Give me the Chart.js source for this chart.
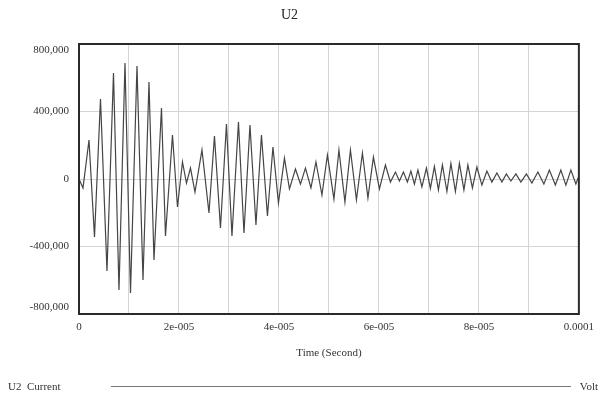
<!DOCTYPE html>
<html>
<head>
<meta charset="utf-8">
<script src="https://cdn.jsdelivr.net/npm/chart.js@4"></script>
<style>
  html, body { margin: 0; padding: 0; background: #fff; }
  #wrap { position: relative; width: 601px; height: 399px; }
  #legend {
    position: absolute; left: 8px; right: 3px; top: 377px; height: 18px;
    display: flex; align-items: center;
    font: 11px "Liberation Serif", serif; color: #333;
  }
  #legend .rule { flex: 1; height: 0; border-top: 1px solid #777; margin: 0 9px 0 50px; }
</style>
</head>
<body>
<div id="wrap">
  <canvas id="chart"></canvas>
  <div id="legend"><span>U2&nbsp; Current</span><span class="rule"></span><span>Volt</span></div>
</div>
<script>
// time in microseconds (peaks and troughs)
const timeUs = [
  0, 0.8, 2.0, 3.1, 4.3, 5.6, 6.9, 8.0, 9.2, 10.3,
  11.6, 12.8, 14.0, 15.0, 16.5, 17.3, 18.7, 19.7, 20.7, 21.5,
  22.3, 23.2, 24.6, 26.0, 27.1, 28.3, 29.5, 30.6, 31.9, 33.0,
  34.2, 35.4, 36.5, 37.7, 38.8, 39.9, 41.1, 42.1, 43.3, 44.3,
  45.3, 46.4, 47.4, 48.6, 49.7, 51.0, 52.0, 53.2, 54.3, 55.5,
  56.7, 57.8, 58.9, 60.1, 61.3, 62.3, 63.3, 64.1, 64.9, 65.7,
  66.4, 67.1, 67.8, 68.6, 69.5, 70.3, 71.1, 71.9, 72.7, 73.6,
  74.4, 75.3, 76.1, 77.0, 77.8, 78.7, 79.6, 80.6, 81.6, 82.6,
  83.6, 84.6, 85.5, 86.4, 87.4, 88.4, 89.5, 90.6, 91.8, 93.0,
  94.1, 95.3, 96.4, 97.4, 98.4, 99.4, 100
];
const current = [
  0, -53000, 231000, -344000, 474000, -545000, 628000, -658000, 687000, -676000,
  670000, -599000, 575000, -480000, 421000, -338000, 261000, -166000, 101000, -24000,
  65000, -77000, 172000, -201000, 255000, -290000, 326000, -338000, 338000, -320000,
  320000, -273000, 261000, -219000, 190000, -142000, 124000, -59000, 59000, -30000,
  65000, -53000, 101000, -95000, 142000, -119000, 172000, -136000, 172000, -124000,
  154000, -113000, 130000, -59000, 83000, -18000, 41000, -12000, 41000, -18000,
  47000, -30000, 53000, -47000, 65000, -56000, 74000, -65000, 83000, -74000,
  92000, -74000, 92000, -65000, 83000, -53000, 71000, -36000, 47000, -18000,
  36000, -18000, 30000, -12000, 30000, -18000, 30000, -24000, 41000, -30000,
  53000, -36000, 53000, -36000, 53000, -30000, 18000
];
const xTickLabels = ["0", "2e-005", "4e-005", "6e-005", "8e-005", "0.0001"];
const yTickLabels = ["-800,000", "-400,000", "0", "400,000", "800,000"];

const serif = "'Liberation Serif', 'DejaVu Serif', serif";

const frame = {
  id: "frame",
  afterDraw(chart) {
    const { ctx, chartArea: a } = chart;
    ctx.save();
    ctx.strokeStyle = "#2a2a2a";
    ctx.lineWidth = 2;
    ctx.strokeRect(a.left, a.top, a.right - a.left, a.bottom - a.top);
    ctx.restore();
  }
};

new Chart(document.getElementById("chart"), {
  type: "line",
  data: {
    datasets: [{
      label: "U2 Current",
      data: timeUs.map((t, i) => ({ x: t, y: current[i] })),
      borderColor: "#454545",
      borderWidth: 1.2,
      pointRadius: 0,
      tension: 0,
      fill: false
    }]
  },
  options: {
    responsive: true,
    maintainAspectRatio: false,
    animation: false,
    layout: { padding: { left: 0, right: 22, top: 0, bottom: 27 } },
    plugins: {
      legend: { display: false },
      tooltip: { enabled: false },
      title: {
        display: true,
        text: "U2",
        color: "#222",
        font: { family: serif, size: 14, weight: "normal" },
        padding: { top: 7, bottom: 20.2 }
      }
    },
    scales: {
      x: {
        type: "linear",
        min: 0,
        max: 100,
        afterFit(scale) { scale.height = 58; },
        border: { display: false },
        grid: { color: "#d4d4d4", drawTicks: false },
        ticks: {
          stepSize: 10,
          autoSkip: false,
          maxRotation: 0,
          padding: 7,
          color: "#333",
          font: { family: serif, size: 11 },
          callback(v) {
            const i = Math.round(v / 10);
            return i % 2 === 0 ? xTickLabels[i / 2] : "";
          }
        },
        title: {
          display: true,
          text: "Time (Second)",
          color: "#333",
          font: { family: serif, size: 11 },
          padding: { top: 0, bottom: 12 }
        }
      },
      y: {
        min: -800000,
        max: 800000,
        afterFit(scale) { scale.width = 79; },
        border: { display: false },
        grid: { color: "#d4d4d4", drawTicks: false },
        ticks: {
          stepSize: 400000,
          padding: 10,
          color: "#333",
          font: { family: serif, size: 11 },
          callback(v) {
            const i = Math.round((v + 800000) / 400000);
            if (i === 4) return ["", yTickLabels[i]];
            if (i === 0) return [yTickLabels[i], ""];
            return yTickLabels[i];
          }
        }
      }
    }
  },
  plugins: [frame]
});
</script>
</body>
</html>
